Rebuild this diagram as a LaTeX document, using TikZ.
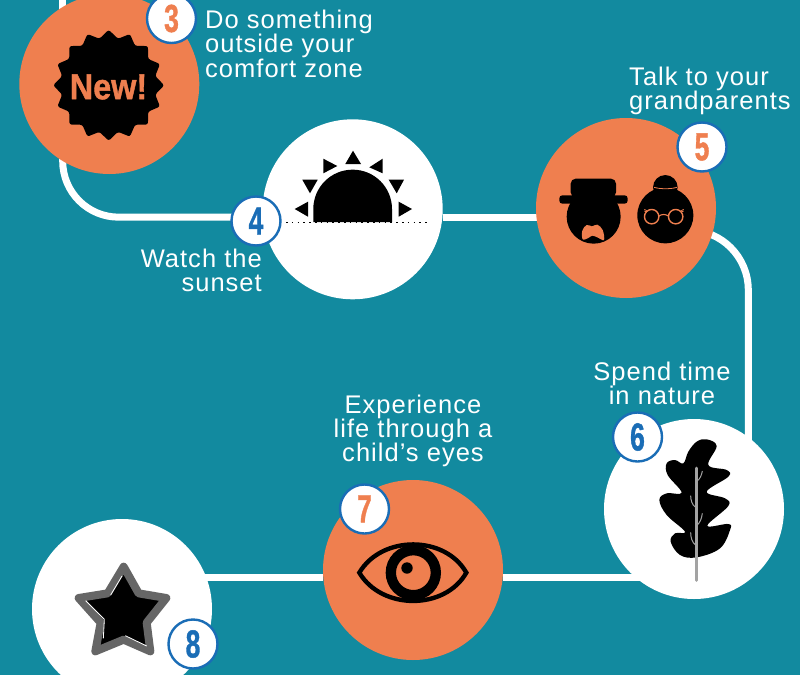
\documentclass[tikz,border=0pt]{standalone}
\usepackage{fontspec}
\usepackage{graphicx}
\setmainfont{Liberation Sans}
\newfontfamily\labfont[LetterSpace=4]{Liberation Sans}
\newfontfamily\numfont[FakeBold=1.2]{Liberation Sans Bold}
\usetikzlibrary{shapes.geometric,backgrounds}
\definecolor{tealbg}{HTML}{128A9F}
\definecolor{orangec}{HTML}{EF7F4F}
\definecolor{bluec}{HTML}{1A6DB6}
\definecolor{stemgray}{HTML}{A3A3A3}
\definecolor{stargray}{HTML}{666666}
\tikzset{
  whitedisc/.style={circle,fill=white,minimum size=180pt,inner sep=0pt},
  orangedisc/.style={circle,fill=orangec,minimum size=180pt,inner sep=0pt},
  badge/.style={circle,fill=white,draw=bluec,line width=2.4pt,minimum size=49pt,inner sep=0pt,font=\numfont\fontsize{39}{39}\selectfont},
  route/.style={draw=white,line width=7pt},
  lab/.style={text=white,inner sep=0pt,font=\labfont\fontsize{25.5}{24.3}\selectfont},
  icon/.style={x=0.33333pt,y=-0.33333pt},
}
\newcommand{\numtxt}[2]{\textcolor{#1}{\scalebox{.68}[1]{#2}}}
\begin{document}
\begin{tikzpicture}[x=1pt,y=-1pt]
\useasboundingbox (0,0) rectangle (800,675);
% discs
\node[orangedisc] (c3) at (109.3,84) {};
\node[whitedisc] (c4) at (352.7,209.3) {};
\node[orangedisc] (c5) at (626,208) {};
\node[whitedisc] (c6) at (694,509) {};
\node[orangedisc] (c7) at (413,570) {};
\node[whitedisc] (c8) at (122,609) {};
\coordinate (topend) at (62.7,0);
% background and connectors
\begin{pgfonlayer}{background}
\fill[tealbg] (0,0) rectangle (800,675);
\draw[route] (topend) -- (topend |- c3);
\draw[route,rounded corners=56pt] (topend |- c3) |- (c4.185);
\draw[route] (c4.355) -- (c4.355 -| c5);
\draw[route,rounded corners=60pt] ([yshift=-22pt]c5.center) -| ([yshift=-8pt]c6.53.5);
\draw[route] (c7.355) -- (c7.355 -| c6);
\draw[route] (c7.185) -- (c7.185 -| c8);
\end{pgfonlayer}
% New! burst
\node[star,star points=16,star point ratio=1.17,fill=black,minimum size=111pt,inner sep=0pt,rounded corners=2.2pt] (burst) at (108.7,85.3) {};
\node[text=orangec,inner sep=0pt,font=\numfont\fontsize{36}{36}\selectfont] (newt) at (108.5,87) {\scalebox{.9}[1]{New!}};
% sun
\fill (313.3,222) -- (313.3,209) arc[start angle=180,end angle=360,radius=39.35] -- (392,222) -- cycle;
\fill (345.3,164) -- (361,164) -- (353,150.7) -- cycle;
\fill (369.3,167.3) -- (382.7,158.7) -- (382.7,173.3) -- cycle;
\fill (323.3,158.7) -- (337.3,166) -- (323.3,173.3) -- cycle;
\fill (302.3,179.7) -- (317.7,179.7) -- (310,193.3) -- cycle;
\fill (388.7,179.7) -- (404,179.7) -- (396.7,193.3) -- cycle;
\fill (294.7,209) -- (308,201.7) -- (308,216.7) -- cycle;
\fill (398.7,201.7) -- (412,209) -- (398.7,216.7) -- cycle;
\draw[line width=1.6pt,dash pattern=on 1.6pt off 4.2pt] (286,222.5) -- (428,222.5);
% grandparents
\begin{scope}[shift={(530,110)},icon]
\fill[rounded corners=5pt] (122,262) -- (122,206) -- (258,206) -- (258,262) -- cycle;
\fill[rounded corners=3pt] (88,256) rectangle (293,281);
\fill (191,320) circle[radius=27pt];
\fill[orangec] plot[smooth cycle,tension=0.6] coordinates {(158,388) (157,362) (170,345) (186,349) (202,344) (218,360) (222,390) (204,383) (187,377) (175,384)};
\fill (406,232) circle[radius=12.3pt];
\fill (406,316) circle[radius=28pt];
\draw[orangec,line width=0.8pt] (372,232) .. controls (395,238) and (418,238) .. (441,232);
\draw[orangec,line width=1.4pt] (365,320) circle[radius=7.2pt] (437,320) circle[radius=7.2pt];
\draw[orangec,line width=1.1pt] (387,318) .. controls (395,312) and (407,312) .. (415,318);
\draw[orangec,line width=0.7pt] (343,298) -- (352,303) (452,303) -- (461,298) (343,303) -- (350,306) (454,306) -- (461,303);
\end{scope}
% leaf
\begin{scope}[shift={(600,410)},icon]
\fill plot[smooth cycle,tension=0.62] coordinates {(320,88) (350,108) (325,165) (380,180) (385,200) (320,245) (375,265) (385,288) (322,347) (385,342) (390,360) (360,415) (290,442) (240,435) (212,395) (225,370) (255,365) (200,315) (178,270) (200,250) (245,248) (203,195) (200,160) (225,150) (250,160) (265,125) (290,95)};
\draw[stemgray,line width=3pt,line cap=round] (288,174) -- (288,511);
\draw[stemgray,line width=1pt] (289,215) .. controls (300,208) and (305,195) .. (307,183)
 (287,292) .. controls (276,285) and (272,270) .. (272,257)
 (289,347) .. controls (300,340) and (305,325) .. (307,310)
 (287,405) .. controls (276,398) and (272,382) .. (272,367);
\end{scope}
% eye
\begin{scope}[shift={(320,475)},icon]
\draw[line width=4.4pt,line join=miter] (118,293) .. controls (185,180) and (375,180) .. (439,293) .. controls (375,406) and (185,406) .. cycle;
\draw[line width=10.3pt] (280,293) circle[radius=22.5pt];
\fill (261,279) circle[radius=5.7pt];
\end{scope}
% star
\begin{scope}[shift={(20,510)},icon]
\draw[stargray,line width=8pt,line join=round,fill=black] (311,170) -- (356,250) -- (439,264) -- (380,338) -- (391,424) -- (311,389) -- (226,424) -- (242,338) -- (176,264) -- (263,250) -- cycle;
\draw[white,line width=0.8pt] (272,255) -- (306,198) (197,272) -- (253,328) -- (250,385) (316,377) -- (380,408);
\end{scope}
% badges
\node[badge] (b3) at (171.5,18.5) {\numtxt{orangec}{3}};
\node[badge] (b4) at (256,221) {\numtxt{bluec}{4}};
\node[badge] (b5) at (702,147) {\numtxt{orangec}{5}};
\node[badge] (b6) at (637.5,437) {\numtxt{bluec}{6}};
\node[badge] (b7) at (364.5,509) {\numtxt{orangec}{7}};
\node[badge] (b8) at (193,644) {\numtxt{bluec}{8}};
% labels
\node[lab,align=left,anchor=north west] (t3) at (205,10) {Do something\\outside your\\comfort zone};
\node[lab,align=right,anchor=north east] (t4) at (262,249) {Watch the\\sunset};
\node[lab,align=left,anchor=north west] (t5) at (629,66.5) {Talk to your\\grandparents};
\node[lab,align=center,anchor=north] (t6) at (662,361.5) {Spend time\\in nature};
\node[lab,align=center,anchor=north] (t7) at (413,394.5) {Experience\\life through a\\child’s eyes};
\end{tikzpicture}
\end{document}
